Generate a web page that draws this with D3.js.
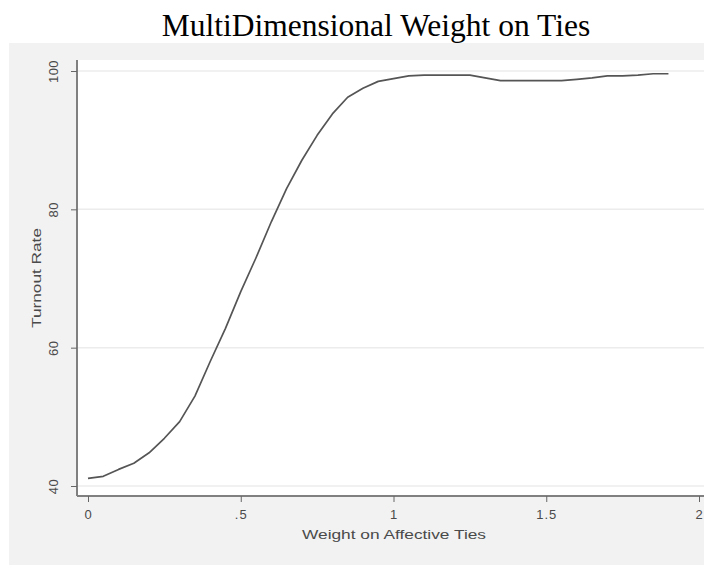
<!DOCTYPE html>
<html>
<head>
<meta charset="utf-8">
<script src="https://cdn.jsdelivr.net/npm/d3@7"></script>
<style>
  html, body { margin: 0; padding: 0; background: #ffffff; }
  svg { display: block; }
</style>
</head>
<body>
<svg id="chart" width="704" height="567"></svg>
<script>
// Weight on affective ties (x) and resulting turnout rate (y)
const weights = [0, 0.05, 0.10, 0.15, 0.20, 0.25, 0.30, 0.35, 0.40, 0.45,
                 0.50, 0.55, 0.60, 0.65, 0.70, 0.75, 0.80, 0.85, 0.90, 0.95,
                 1.00, 1.05, 1.10, 1.15, 1.20, 1.25, 1.30, 1.35, 1.40, 1.45,
                 1.50, 1.55, 1.60, 1.65, 1.70, 1.75, 1.80, 1.85, 1.90];
const turnout = [41.1, 41.4, 42.4, 43.3, 44.8, 46.9, 49.3, 53.0, 58.0, 62.8,
                 68.1, 73.0, 78.2, 83.0, 87.1, 90.7, 93.8, 96.2, 97.5, 98.5,
                 98.9, 99.3, 99.4, 99.4, 99.4, 99.4, 99.0, 98.6, 98.6, 98.6,
                 98.6, 98.6, 98.8, 99.0, 99.3, 99.3, 99.4, 99.6, 99.6];
const xTicks = [0, 0.5, 1, 1.5, 2];
const xTickLabels = ["0", ".5", "1", "1.5", "2"];
const yTicks = [40, 60, 80, 100];

const svg = d3.select("#chart");

// graph region background
svg.append("rect").attr("x", 9).attr("y", 43).attr("width", 695).attr("height", 522)
  .attr("fill", "#f2f2f2");

// title
svg.append("text").attr("x", 376).attr("y", 36).attr("text-anchor", "middle")
  .attr("font-family", "'Liberation Serif', 'Times New Roman', serif")
  .attr("font-size", 31.5).attr("fill", "#000").text("MultiDimensional Weight on Ties");

const x = d3.scaleLinear().domain([0, 2]).range([88, 699]);
const y = d3.scaleLinear().domain([40, 100]).range([486, 71]);

// plot region
svg.append("rect").attr("x", 77).attr("y", 60).attr("width", 627).attr("height", 436)
  .attr("fill", "#ffffff");

// horizontal grid
svg.append("g").selectAll("line").data(yTicks).join("line")
  .attr("x1", 78).attr("x2", 704)
  .attr("y1", d => y(d)).attr("y2", d => y(d))
  .attr("stroke", "#ececec").attr("stroke-width", 1.5);

const font = "'Liberation Sans', Arial, sans-serif";
const textColor = "#4a4a4a";

// y axis
const yAxis = svg.append("g").attr("transform", "translate(77,0)")
  .call(d3.axisLeft(y).tickValues(yTicks).tickSize(6));
yAxis.select(".domain").attr("d", "M0,60V496").attr("stroke", "#808080").attr("stroke-width", 2);
yAxis.selectAll(".tick line").attr("stroke", "#666");
yAxis.selectAll(".tick text")
  .attr("font-family", font).attr("font-size", 13).attr("fill", textColor)
  .attr("transform", "rotate(-90)").attr("x", 0).attr("dy", null)
  .attr("y", -19).attr("text-anchor", "middle").attr("letter-spacing", 0.5);

// x axis
const xAxis = svg.append("g").attr("transform", "translate(0,496)")
  .call(d3.axisBottom(x).tickValues(xTicks).tickFormat((d, i) => xTickLabels[i])
    .tickSize(6).tickPadding(6));
xAxis.select(".domain").attr("d", "M77,0H704").attr("stroke", "#808080").attr("stroke-width", 2);
xAxis.selectAll(".tick line").attr("stroke", "#666");
xAxis.selectAll(".tick text")
  .attr("font-family", font).attr("font-size", 13).attr("fill", textColor)
  .attr("dy", null).attr("y", 23).attr("letter-spacing", 1);

// axis titles
svg.append("text").attr("x", 394).attr("y", 539).attr("text-anchor", "middle")
  .attr("font-family", font).attr("font-size", 13).attr("fill", textColor)
  .attr("textLength", 184).attr("lengthAdjust", "spacingAndGlyphs")
  .text("Weight on Affective Ties");
svg.append("text").attr("transform", "translate(41,278) rotate(-90)")
  .attr("text-anchor", "middle")
  .attr("font-family", font).attr("font-size", 13).attr("fill", textColor)
  .attr("textLength", 100).attr("lengthAdjust", "spacingAndGlyphs")
  .text("Turnout Rate");

// turnout curve
const pts = weights.map((w, i) => [w, turnout[i]]);
svg.append("path").datum(pts)
  .attr("fill", "none").attr("stroke", "#555").attr("stroke-width", 1.7)
  .attr("stroke-linejoin", "round")
  .attr("d", d3.line().x(d => x(d[0])).y(d => y(d[1])));
</script>
</body>
</html>
